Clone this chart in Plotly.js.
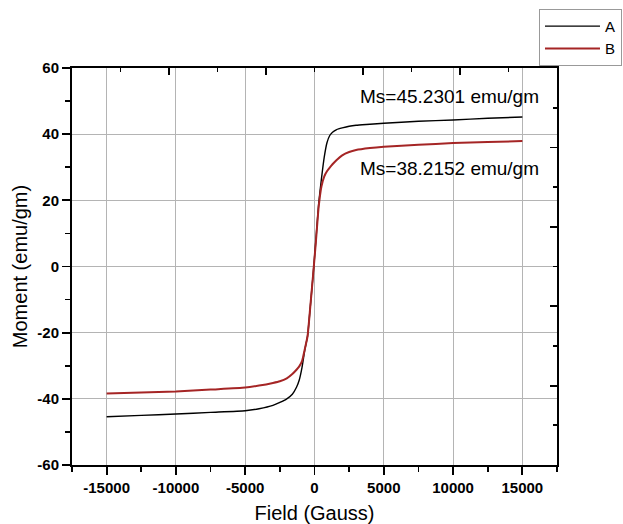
<!DOCTYPE html>
<html>
<head>
<meta charset="utf-8">
<script src="https://cdn.plot.ly/plotly-3.0.1.min.js"></script>
<style>html,body{margin:0;padding:0;background:#fff;}#chart{width:623px;height:524px;}</style>
</head>
<body>
<div id="chart"></div>
<script>
// Field values (Gauss)
const field = [-15000, -12500, -10000, -7500, -5000, -4000, -3000, -2500, -2000, -1600, -1300, -1100, -900, -700, -500, -300, -100, 100, 300, 500, 700, 900, 1100, 1300, 1600, 2000, 2500, 3000, 4000, 5000, 7500, 10000, 12500, 15000];
// Sample A moment (emu/gm)
const momentA = [-45.4, -45.0, -44.6, -44.1, -43.6, -43.0, -42.0, -41.1, -40.0, -38.6, -36.5, -34.3, -30.5, -25.2, -21.0, -12.0, -2.5, 8.0, 19.0, 26.5, 33.0, 37.4, 39.6, 40.6, 41.4, 41.9, 42.4, 42.7, 43.0, 43.3, 43.9, 44.3, 44.8, 45.2];
// Sample B moment (emu/gm)
const momentB = [-38.4, -38.1, -37.8, -37.2, -36.6, -36.0, -35.2, -34.7, -33.8, -32.5, -31.2, -30.2, -28.6, -25.0, -21.0, -12.0, -2.5, 7.5, 18.0, 24.2, 27.2, 28.8, 29.9, 30.9, 32.2, 33.6, 34.6, 35.2, 35.8, 36.2, 36.8, 37.3, 37.6, 37.9];
const seriesNames = ["A", "B"];
const xTickVals = [-15000, -10000, -5000, 0, 5000, 10000, 15000];
const xTickText = ["-15000", "-10000", "-5000", "0", "5000", "10000", "15000"];
const yTickVals = [-60, -40, -20, 0, 20, 40, 60];
const yTickText = ["-60", "-40", "-20", "0", "20", "40", "60"];
const msLabels = ["Ms=45.2301 emu/gm", "Ms=38.2152 emu/gm"];
const msLabelX = [9750, 9750];
const msLabelY = [51.4, 29.6];

const FONT = "Liberation Sans, Arial, sans-serif";

const traces = [
  {x: field, y: momentA, name: seriesNames[0], type: "scatter", mode: "lines",
   line: {color: "#000000", width: 1.4, shape: "spline", smoothing: 0.5}},
  {x: field, y: momentB, name: seriesNames[1], type: "scatter", mode: "lines",
   line: {color: "#a52525", width: 2, shape: "spline", smoothing: 0.5}},
  {x: [], y: [], xaxis: "x2", yaxis: "y2", showlegend: false, type: "scatter", mode: "lines"}
];

const layout = {
  width: 623, height: 524,
  margin: {l: 72, r: 66, t: 68, b: 59, autoexpand: false},
  paper_bgcolor: "#ffffff", plot_bgcolor: "#ffffff",
  font: {family: FONT, color: "#000"},
  showlegend: true,
  legend: {x: 1.134, xanchor: "right", y: 1.149, yanchor: "top",
    bgcolor: "#ffffff", bordercolor: "#999999", borderwidth: 1,
    font: {family: FONT, size: 15, color: "#000"}, itemwidth: 55, tracegroupgap: 0},
  xaxis: {
    range: [-17500, 17500], tickmode: "array", tickvals: xTickVals, ticktext: xTickText,
    ticks: "outside", ticklen: 8, tickwidth: 1.8, tickcolor: "#000",
    minor: {dtick: 2500, tick0: 0, ticks: "outside", ticklen: 5, tickwidth: 1.8, tickcolor: "#000", showgrid: false},
    showgrid: true, gridcolor: "#b4b4b4", gridwidth: 1, zeroline: false,
    showline: true, linecolor: "#000", linewidth: 2,
    tickfont: {family: FONT, size: 15, weight: "bold", color: "#000"},
    title: {text: "Field (Gauss)", font: {family: FONT, size: 20, color: "#000"}, standoff: 18}
  },
  yaxis: {
    range: [-60, 60], tickmode: "array", tickvals: yTickVals, ticktext: yTickText,
    ticks: "outside", ticklen: 8, tickwidth: 1.8, tickcolor: "#000",
    minor: {dtick: 10, tick0: 0, ticks: "outside", ticklen: 5, tickwidth: 1.8, tickcolor: "#000", showgrid: false},
    showgrid: true, gridcolor: "#b4b4b4", gridwidth: 1, zeroline: false,
    showline: true, linecolor: "#000", linewidth: 2,
    tickfont: {family: FONT, size: 15, weight: "bold", color: "#000"},
    title: {text: "Moment (emu/gm)", font: {family: FONT, size: 20, color: "#000"}, standoff: 4}
  },
  xaxis2: {
    overlaying: "x", side: "top", anchor: "y", range: [0, 10],
    tickmode: "array", tickvals: [2, 4, 6, 8], ticks: "inside", ticklen: 7, tickwidth: 1.8, tickcolor: "#000",
    minor: {tickmode: "array", tickvals: [1, 3, 5, 7, 9], ticks: "inside", ticklen: 4, tickwidth: 1.8, tickcolor: "#000", showgrid: false},
    showticklabels: false, showgrid: false, zeroline: false,
    showline: true, linecolor: "#000", linewidth: 2
  },
  yaxis2: {
    overlaying: "y", side: "right", anchor: "x", range: [0, 10],
    tickmode: "array", tickvals: [2, 4, 6, 8], ticks: "inside", ticklen: 7, tickwidth: 1.8, tickcolor: "#000",
    minor: {tickmode: "array", tickvals: [1, 3, 5, 7, 9], ticks: "inside", ticklen: 4, tickwidth: 1.8, tickcolor: "#000", showgrid: false},
    showticklabels: false, showgrid: false, zeroline: false,
    showline: true, linecolor: "#000", linewidth: 2
  },
  annotations: msLabels.map((t, i) => ({
    x: msLabelX[i], y: msLabelY[i], xref: "x", yref: "y", text: t, showarrow: false,
    font: {family: FONT, size: 19, color: "#000"}
  }))
};

Plotly.newPlot("chart", traces, layout, {displayModeBar: false, staticPlot: true});
</script>
</body>
</html>
